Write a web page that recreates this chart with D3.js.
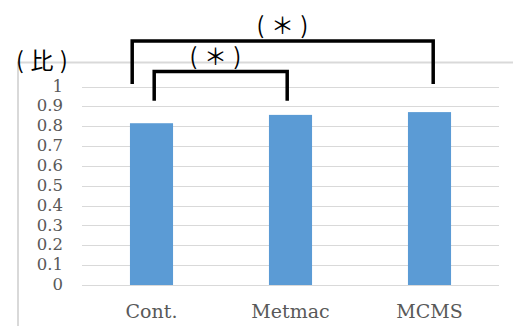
<!DOCTYPE html>
<html>
<head>
<meta charset="utf-8">
<script src="https://cdn.jsdelivr.net/npm/d3@7"></script>
<style>
  html, body { margin: 0; padding: 0; background: #fff; }
  svg { display: block; }
</style>
</head>
<body>
<script>
// Ratio per group
const categories = ["Cont.", "Metmac", "MCMS"];
const values = [0.815, 0.857, 0.871];
const tickValues = [0, 0.1, 0.2, 0.3, 0.4, 0.5, 0.6, 0.7, 0.8, 0.9, 1];
const tickLabels = ["0", "0.1", "0.2", "0.3", "0.4", "0.5", "0.6", "0.7", "0.8", "0.9", "1"];
const unitLabel = "（比）";
// Significance brackets: groups compared, leg bottom / top heights (in ratio units)
const bracketFrom = ["Cont.", "Cont."];
const bracketTo = ["MCMS", "Metmac"];
const bracketLow = [1.013, 0.928];
const bracketHigh = [1.229, 1.075];
const bracketMark = ["（＊）", "（＊）"];

const W = 513, H = 326;
const svg = d3.select("body").append("svg").attr("width", W).attr("height", H);

const x = d3.scaleBand().domain(categories).range([82, 499]).paddingInner(0.69).paddingOuter(0.345);
const y = d3.scaleLinear().domain([0, 1]).range([285, 86.5]);

// chart frame
svg.append("path")
  .attr("d", `M18,${H} V62.5 H${W}`)
  .attr("fill", "none").attr("stroke", "#d9d9d9").attr("stroke-width", 2);

// gridlines
svg.append("g").selectAll("line").data(tickValues).join("line")
  .attr("x1", 82).attr("x2", 499)
  .attr("y1", d => Math.round(y(d)) + 0.5).attr("y2", d => Math.round(y(d)) + 0.5)
  .attr("stroke", "#d9d9d9").attr("stroke-width", 1);

// y axis labels
const yAxis = d3.axisLeft(y).tickValues(tickValues)
  .tickFormat((d, i) => tickLabels[i]).tickSize(0).tickPadding(0);
const gy = svg.append("g").attr("transform", "translate(63,0)").call(yAxis);
gy.select(".domain").remove();
gy.selectAll("text")
  .attr("font-family", "DejaVu Serif").attr("font-size", 16.5)
  .attr("fill", "#595959").attr("dy", "0.28em");

// bars
svg.append("g").selectAll("rect").data(values).join("rect")
  .attr("x", (d, i) => x(categories[i]))
  .attr("width", x.bandwidth())
  .attr("y", d => y(d))
  .attr("height", d => y(0) - y(d))
  .attr("fill", "#5b9bd5");

// x axis labels
const xAxis = d3.axisBottom(x).tickSize(0).tickPadding(0);
const gx = svg.append("g").attr("transform", "translate(0,318)").call(xAxis);
gx.select(".domain").remove();
gx.selectAll("text")
  .attr("font-family", "DejaVu Serif").attr("font-size", 19)
  .attr("fill", "#595959").attr("dy", 0);

// full-width style label: each glyph placed on a fixed 22px pitch
function wideText(str, cx, baseline) {
  const g = svg.append("text")
    .attr("y", baseline).attr("text-anchor", "middle")
    .attr("font-family", "Noto Sans CJK JP").attr("font-size", 23)
    .attr("fill", "#000");
  const chars = Array.from(str);
  const pitch = 22;
  chars.forEach((c, i) => {
    const ch = c === "（" ? "(" : c === "）" ? ")" : c;
    g.append("tspan")
      .attr("x", cx + (i - (chars.length - 1) / 2) * pitch)
      .text(ch);
  });
}

// unit label
wideText(unitLabel, 42, 69);

// significance brackets
const legOffsetL = [-19.3, 2.7];
const legOffsetR = [3.7, -3.3];
bracketFrom.forEach((from, i) => {
  const x1 = x(from) + x.bandwidth() / 2 + legOffsetL[i];
  const x2 = x(bracketTo[i]) + x.bandwidth() / 2 + legOffsetR[i];
  const yl = y(bracketLow[i]), yh = y(bracketHigh[i]);
  svg.append("path")
    .attr("d", `M${x1},${yl} V${yh} H${x2} V${yl}`)
    .attr("fill", "none").attr("stroke", "#000").attr("stroke-width", 3.5)
    .attr("stroke-linejoin", "miter");
});
// marks above brackets
const markX = [282.5, 215.5];
bracketMark.forEach((m, i) => wideText(m, markX[i], y(bracketHigh[i]) - 7));
</script>
</body>
</html>
